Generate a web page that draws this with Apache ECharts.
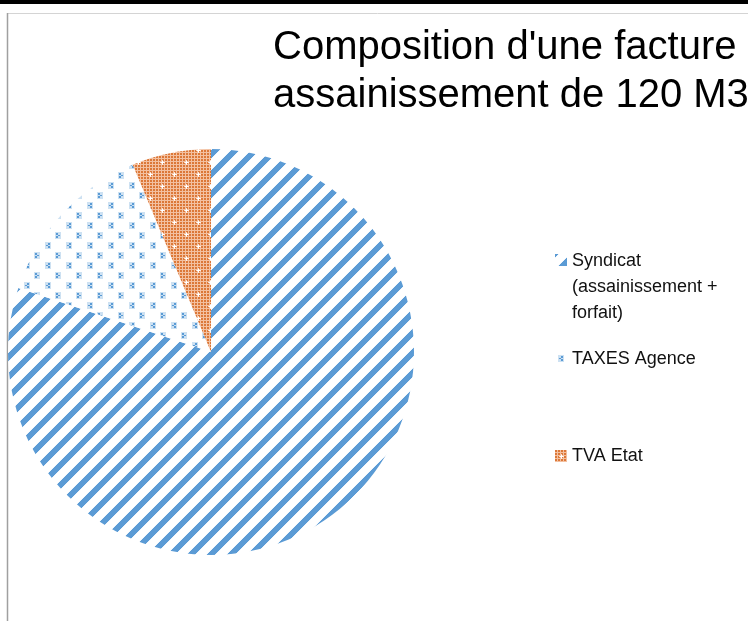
<!DOCTYPE html>
<html>
<head>
<meta charset="utf-8">
<script src="https://cdn.jsdelivr.net/npm/echarts@6/dist/echarts.min.js"></script>
<style>
  html, body { margin: 0; padding: 0; background: #ffffff; }
  #chart { width: 748px; height: 621px; }
</style>
</head>
<body>
<div id="chart"></div>
<script>
// ---- Data ----
const categories = ['Syndicat (assainissement + forfait)', 'TAXES Agence', 'TVA Etat'];
const legendLabels = ['Syndicat\n(assainissement +\nforfait)', 'TAXES Agence', 'TVA Etat'];
const values = [80.1, 13.6, 6.3];
const titleLines = ["Composition d'une facture", 'assainissement de 120 M3'];

// ---- Pattern builders ----
function mix(a, b, t) { return [0,1,2].map(i => Math.round(a[i] * (1 - t) + b[i] * t)); }

function stripesPattern() {
  const size = 20, c = document.createElement('canvas');
  c.width = size; c.height = size;
  const ctx = c.getContext('2d');
  const img = ctx.createImageData(size, size);
  const blue = [91, 155, 213], white = [255, 255, 255];
  for (let y = 0; y < size; y++) {
    for (let x = 0; x < size; x++) {
      let t = ((x + y) % size) + 0.5;
      let d = Math.abs(t - 5);
      d = Math.min(d, size - d);
      const cov = Math.max(0, Math.min(1, 4.6 - d));
      const col = mix(white, blue, cov);
      const k = (y * size + x) * 4;
      img.data[k] = col[0]; img.data[k+1] = col[1]; img.data[k+2] = col[2]; img.data[k+3] = 255;
    }
  }
  ctx.putImageData(img, 0, 0);
  return { image: c, repeat: 'repeat' };
}

function dotsPattern() {
  const w = 21, h = 20, c = document.createElement('canvas');
  c.width = w; c.height = h;
  const ctx = c.getContext('2d');
  ctx.fillStyle = '#ffffff';
  ctx.fillRect(0, 0, w, h);
  function mark(x, y, dir) {
    ctx.fillStyle = 'rgba(91,155,213,0.3)';
    ctx.fillRect(x - 2, y - 3, 6, 7);
    ctx.fillStyle = 'rgba(91,155,213,1)';
    if (dir < 0) {
      ctx.fillRect(x + 1, y - 2, 2, 2);
      ctx.fillRect(x - 1, y, 2, 1);
      ctx.fillRect(x + 1, y + 1, 2, 2);
    } else {
      ctx.fillRect(x - 1, y - 2, 2, 2);
      ctx.fillRect(x + 1, y, 2, 1);
      ctx.fillRect(x - 1, y + 1, 2, 2);
    }
  }
  mark(5, 5, -1);
  mark(15, 15, 1);
  return { image: c, repeat: 'repeat' };
}

function checkerPattern() {
  const size = 24, c = document.createElement('canvas');
  c.width = size; c.height = size;
  const ctx = c.getContext('2d');
  const img = ctx.createImageData(size, size);
  const orange = [220, 120, 56], light = [243, 192, 160];
  for (let y = 0; y < size; y++) {
    for (let x = 0; x < size; x++) {
      const col = (x % 3 < 2 && y % 3 < 2) ? orange : light;
      const k = (y * size + x) * 4;
      img.data[k] = col[0]; img.data[k+1] = col[1]; img.data[k+2] = col[2]; img.data[k+3] = 255;
    }
  }
  ctx.putImageData(img, 0, 0);
  function star(x, y) {
    ctx.fillStyle = 'rgba(255,255,255,0.75)';
    ctx.fillRect(x - 2, y, 5, 1);
    ctx.fillRect(x, y - 2, 1, 5);
    ctx.fillStyle = 'rgba(255,255,255,1)';
    ctx.fillRect(x - 1, y, 3, 1);
    ctx.fillRect(x, y - 1, 1, 3);
  }
  star(6, 6);
  star(18, 18);
  return { image: c, repeat: 'repeat' };
}

const fills = [stripesPattern(), dotsPattern(), checkerPattern()];

const chart = echarts.init(document.getElementById('chart'), null, { renderer: 'canvas' });

const legendTops = [248, 346, 443];
const legends = categories.map((name, i) => ({
  data: [name],
  orient: 'vertical',
  left: 555,
  top: legendTops[i],
  padding: 0,
  selectedMode: false,
  itemWidth: 12,
  itemHeight: i === 0 ? 78 : 12,
  icon: i === 0 ? 'path://M0,0L0.05,0L0,0.05Z M0,6L12,6L12,18L0,18Z M0,77.95L0.05,78L0,78Z' : 'rect',
  formatter: () => legendLabels[i],
  textStyle: {
    fontFamily: 'Liberation Sans, Arial, sans-serif',
    fontSize: 18,
    lineHeight: 26,
    color: '#111111'
  }
}));

const option = {
  backgroundColor: '#ffffff',
  animation: false,
  title: {
    text: titleLines.join('\n'),
    left: 273,
    top: 24,
    padding: 0,
    textStyle: {
      fontFamily: 'Liberation Sans, Arial, sans-serif',
      fontSize: 40,
      fontWeight: 'normal',
      lineHeight: 48,
      color: '#000000'
    }
  },
  legend: legends,
  graphic: [
    { type: 'rect', shape: { x: 0, y: 0, width: 748, height: 4 }, style: { fill: '#000000' }, silent: true },
    { type: 'line', shape: { x1: 7, y1: 13.5, x2: 748, y2: 13.5 }, style: { stroke: '#D4D4D4', lineWidth: 1 }, silent: true },
    { type: 'line', shape: { x1: 7.5, y1: 13, x2: 7.5, y2: 621 }, style: { stroke: '#A0A0A0', lineWidth: 1.5 }, silent: true }
  ],
  series: [{
    type: 'pie',
    center: [211, 352],
    radius: 203,
    startAngle: 90,
    clockwise: true,
    label: { show: false },
    labelLine: { show: false },
    emphasis: { disabled: true },
    itemStyle: { borderWidth: 0 },
    data: categories.map((name, i) => ({
      name: name,
      value: values[i],
      itemStyle: { color: fills[i] }
    }))
  }]
};

chart.setOption(option);
</script>
</body>
</html>
